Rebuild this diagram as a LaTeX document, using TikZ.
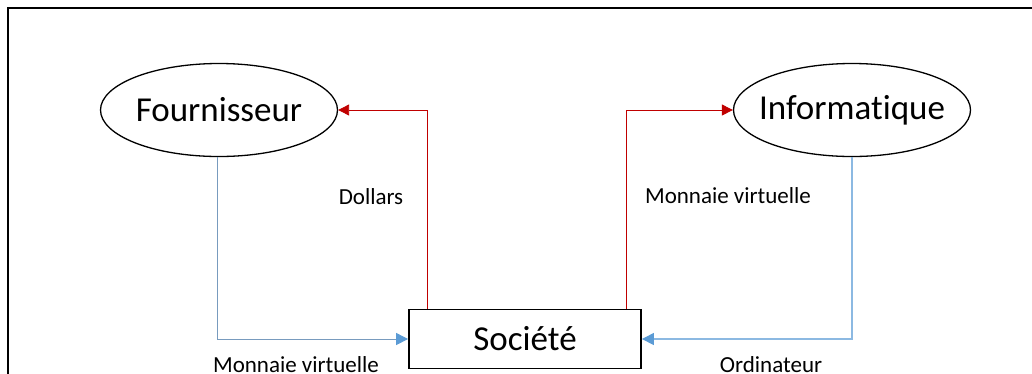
\documentclass[tikz,border=0pt]{standalone}
\usepackage{fontspec}
\setmainfont{Carlito}[Ligatures=NoCommon]
\usetikzlibrary{shapes.geometric,arrows.meta,calc}
\definecolor{redln}{RGB}{192,0,0}
\definecolor{blueln}{RGB}{91,155,213}
\definecolor{bluegrey}{RGB}{120,155,190}
\begin{document}
\begin{tikzpicture}[x=1pt,y=-1pt,
  ell/.style={draw=black,line width=1.3pt,ellipse,minimum width=237pt,minimum height=93pt,inner sep=0pt,font=\fontsize{35}{40}\selectfont},
  boxn/.style={draw=black,line width=1.8pt,rectangle,minimum width=232pt,minimum height=59pt,inner sep=0pt,font=\fontsize{35}{40}\selectfont},
  lbl/.style={font=\fontsize{23}{26}\selectfont,anchor=base,inner sep=0pt},
  redarrow/.style={draw=redln,line width=0.9pt,-{Triangle[length=11pt,width=11pt]}},
  bluearrow/.style={draw=bluegrey,line width=1pt,-{Triangle[length=12pt,width=12pt,fill=blueln,color=blueln]}},
  bluearrowr/.style={draw=blueln!70,line width=1.2pt,-{Triangle[length=12pt,width=12pt,fill=blueln,color=blueln]}}
]
\useasboundingbox (0,0) rectangle (1032,373);
\clip (0,0) rectangle (1032,373);
\draw[line width=1.6pt] (8,400) -- (8,8) -- (1050,8);

\node[ell] (four) at (219,110) {\makebox[0pt]{Fournisseur}};
\node[ell] (info) at (852,110) {\makebox[0pt]{Informatique}};
\node[boxn] (soc) at (525,339) {Société};

\draw[redarrow] ($(soc.north west)+(19,0)$) |- (four.east);
\draw[redarrow] ($(soc.north east)+(-15,0)$) |- (info.west);
\draw[bluearrow] ($(four.south)+(-2,0)$) |- (soc.west);
\draw[bluearrowr] (info.south) |- (soc.east);

\node[lbl] (ldol) at (371,204) {Dollars};
\node[lbl] (lmv1) at (728,203) {Monnaie virtuelle};
\node[lbl] (lmv2) at (296,372) {Monnaie virtuelle};
\node[lbl] (lord) at (771,372) {Ordinateur};
\end{tikzpicture}
\end{document}
